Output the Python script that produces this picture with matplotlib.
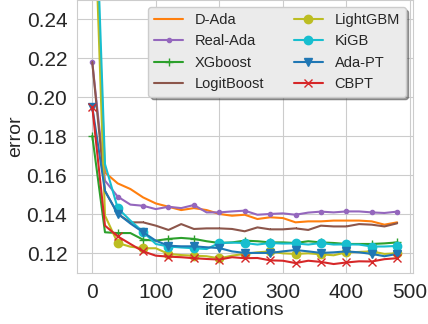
import matplotlib
matplotlib.use("Agg")
import matplotlib.pyplot as plt
import seaborn as sns

# values
iterations = [0, 20, 40, 60, 80, 100, 120, 140, 160, 180, 200, 220, 240,
              260, 280, 300, 320, 340, 360, 380, 400, 420, 440, 460, 480]

d_ada = [0.330, 0.1615, 0.1559, 0.1530, 0.1487, 0.1456, 0.1439, 0.1422, 0.1432,
         0.1422, 0.1402, 0.1393, 0.1398, 0.1376, 0.1385, 0.1381, 0.1359, 0.1364,
         0.1364, 0.1368, 0.1368, 0.1368, 0.1364, 0.1347, 0.1359]
real_ada = [0.218, 0.1573, 0.1491, 0.1450, 0.1444, 0.1427, 0.1439, 0.1432, 0.1448,
            0.1410, 0.1410, 0.1415, 0.1419, 0.1398, 0.1402, 0.1405, 0.1398, 0.1409,
            0.1414, 0.1410, 0.1415, 0.1415, 0.1410, 0.1407, 0.1414]
xgboost = [0.1803, 0.1308, 0.1304, 0.1304, 0.1270, 0.1265, 0.1274, 0.1279, 0.1274,
           0.1262, 0.1253, 0.1256, 0.1265, 0.1262, 0.1256, 0.1256, 0.1253, 0.1262,
           0.1256, 0.1253, 0.1248, 0.1248, 0.1248, 0.1251, 0.1256]
logitboost = [0.218, 0.152, 0.1402, 0.1359, 0.1359, 0.1342, 0.1320, 0.1350, 0.1325,
              0.1328, 0.1328, 0.1325, 0.1313, 0.1333, 0.1323, 0.1323, 0.1328, 0.1320,
              0.1342, 0.1338, 0.1338, 0.1350, 0.1347, 0.1338, 0.1354]
lightgbm = [0.330, 0.1394, 0.1253, 0.1234, 0.1226, 0.1226, 0.1197, 0.1191, 0.1188,
            0.1185, 0.1174, 0.1188, 0.1197, 0.1205, 0.1210, 0.1200, 0.1197, 0.1200,
            0.1195, 0.1190, 0.1205, 0.1207, 0.1210, 0.1197, 0.1200]
kigb = [0.353, 0.1658, 0.1432, 0.1368, 0.1310, 0.1248, 0.1235, 0.1230, 0.1226,
        0.1222, 0.1253, 0.1255, 0.1253, 0.1245, 0.1253, 0.1250, 0.1251, 0.1245,
        0.1253, 0.1245, 0.1246, 0.1245, 0.1235, 0.1235, 0.1238]
ada_pt = [0.1952, 0.152, 0.1404, 0.1353, 0.1308, 0.1265, 0.1239, 0.1236, 0.1236,
          0.1231, 0.1227, 0.1210, 0.1202, 0.1202, 0.1202, 0.1210, 0.1217, 0.1210,
          0.1202, 0.1205, 0.1210, 0.1205, 0.1197, 0.1185, 0.1197]
cbpt = [0.1952, 0.1342, 0.1287, 0.1248, 0.1210, 0.1188, 0.1183, 0.1180, 0.1175,
        0.1171, 0.1168, 0.1180, 0.1175, 0.1176, 0.1164, 0.1162, 0.1150, 0.1162,
        0.1156, 0.1145, 0.1153, 0.1159, 0.1158, 0.1170, 0.1175]

sns.set_style("whitegrid")
plt.rcParams["font.family"] = ["Liberation Sans", "DejaVu Sans"]

fig = plt.figure(figsize=(4.28, 3.24), dpi=100)
ax = fig.add_axes([0.180, 0.158, 0.785, 0.842])

series = [
    ("D-Ada", d_ada, "tab:orange", None),
    ("Real-Ada", real_ada, "tab:purple", "."),
    ("XGboost", xgboost, "tab:green", "+"),
    ("LogitBoost", logitboost, "tab:brown", ","),
    ("LightGBM", lightgbm, "tab:olive", "o"),
    ("KiGB", kigb, "tab:cyan", "o"),
    ("Ada-PT", ada_pt, "tab:blue", "v"),
    ("CBPT", cbpt, "tab:red", "x"),
]
for label, ys, color, marker in series:
    ax.plot(iterations, ys, color=color, marker=marker, markevery=2,
            linewidth=1.5, label=label)

ax.set_ylim(0.11, 0.25)
ax.set_xlim(-24, 505)
ax.set_xticks([0, 100, 200, 300, 400, 500])
ax.set_yticks([0.12, 0.14, 0.16, 0.18, 0.20, 0.22, 0.24])
ax.set_yticklabels(["0.12", "0.14", "0.16", "0.18", "0.20", "0.22", "0.24"])
ax.tick_params(labelsize=15)
ax.set_xlabel("iterations", fontsize=14, labelpad=0)
ax.set_ylabel("error", fontsize=14, labelpad=2)
leg = ax.legend(ncol=2, loc="upper right", shadow=True, fontsize=10.5,
                framealpha=1, facecolor="#ebebeb", edgecolor="0.8")

fig.savefig("out.png", dpi=100)
